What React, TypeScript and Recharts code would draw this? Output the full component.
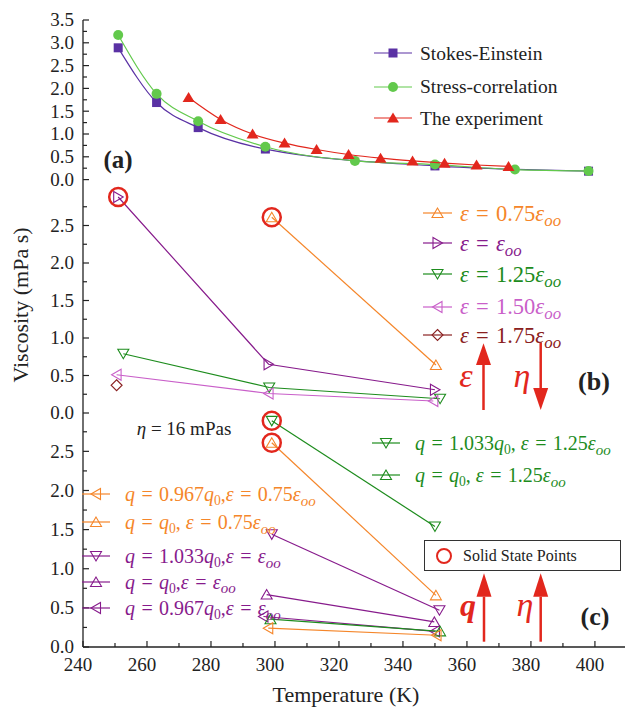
import React from 'react';
import { ComposedChart, Scatter, XAxis, YAxis, Legend, Customized } from 'recharts';

const FONT = '"Liberation Serif", "Times New Roman", Times, serif';

// ---------- shared x axis ----------
const xTicks = [240, 250, 260, 270, 280, 290, 300, 310, 320, 330, 340, 350, 360, 370, 380, 390, 400];
const xLabels = [240, 260, 280, 300, 320, 340, 360, 380, 400];
const xDomain = [240, 409.4];

// ---------- panel (a) ----------
const aTicks = [0, 0.25, 0.5, 0.75, 1, 1.25, 1.5, 1.75, 2, 2.25, 2.5, 2.75, 3, 3.25, 3.5];
const aLabels = [0, 0.5, 1, 1.5, 2, 2.5, 3, 3.5];
const seT = [251, 263, 276, 297, 350, 398];
const seV = [2.89, 1.69, 1.14, 0.67, 0.3, 0.185];
const scT = [251, 263, 276, 297, 325, 350, 375, 398];
const scV = [3.17, 1.88, 1.28, 0.72, 0.41, 0.33, 0.22, 0.19];
const exT = [273, 283, 293, 303, 313, 323, 333, 343, 353, 363, 373];
const exV = [1.8, 1.32, 1.0, 0.8, 0.66, 0.55, 0.47, 0.41, 0.36, 0.32, 0.29];

// ---------- panel (b) ----------
const bTicks = [0, 0.25, 0.5, 0.75, 1, 1.25, 1.5, 1.75, 2, 2.25, 2.5, 2.75];
const bLabels = [0, 0.5, 1, 1.5, 2, 2.5];
const b075T = [299, 350.3];
const b075V = [2.61, 0.64];
const b100T = [251, 298, 350];
const b100V = [2.88, 0.65, 0.31];
const b125T = [252.6, 298.2, 351.6];
const b125V = [0.79, 0.34, 0.19];
const b150T = [250.5, 298, 349.5];
const b150V = [0.51, 0.26, 0.16];
const b175T = [250.5];
const b175V = [0.37];
const bSolidT = [251, 299];
const bSolidV = [2.88, 2.61];

// ---------- panel (c) ----------
const cTicks = [0, 0.25, 0.5, 0.75, 1, 1.25, 1.5, 1.75, 2, 2.25, 2.5, 2.75];
const cLabels = [0, 0.5, 1, 1.5, 2, 2.5];
const cG1033T = [299, 350];
const cG1033V = [2.89, 1.54];
const cO100T = [299, 350.3];
const cO100V = [2.61, 0.66];
const cP1033T = [299, 351.4];
const cP1033V = [1.44, 0.47];
const cP100T = [297.4, 349.8];
const cP100V = [0.67, 0.32];
const cP0967T = [296.4, 350];
const cP0967V = [0.39, 0.2];
const cG100T = [298.6, 351.6];
const cG100V = [0.355, 0.2];
const cO0967T = [297.9, 350.5];
const cO0967V = [0.24, 0.15];
const cSolidT = [299, 299];
const cSolidV = [2.89, 2.61];

// ---------- colours ----------
const PURPLE_A = '#5a31a4';
const GREEN_A = '#62c94c';
const RED = '#e2271d';
const ORANGE = '#f5862a';
const PURPLE = '#871b8c';
const GREEN = '#1d8c1d';
const PINK = '#c95fc9';
const BROWN = '#8a2020';
const AXIS = '#222';

const zip = (t: number[], v: number[]) => t.map((T, i) => ({ T, v: v[i] }));

type Kind = 'square' | 'circle' | 'triFill' | 'up' | 'down' | 'left' | 'right' | 'diamond' | 'ring';

function Mark({ kind, cx, cy, color }: { kind: Kind; cx: number; cy: number; color: string }) {
  const sw = 1.1;
  switch (kind) {
    case 'square':
      return <rect x={cx - 4.5} y={cy - 4.5} width={9} height={9} fill={color} />;
    case 'circle':
      return <circle cx={cx} cy={cy} r={5} fill={color} />;
    case 'triFill':
      return <polygon points={`${cx},${cy - 5.5} ${cx - 6},${cy + 4.5} ${cx + 6},${cy + 4.5}`} fill={color} />;
    case 'up':
      return <polygon points={`${cx},${cy - 5} ${cx - 5.5},${cy + 4.5} ${cx + 5.5},${cy + 4.5}`} fill="none" stroke={color} strokeWidth={sw} />;
    case 'down':
      return <polygon points={`${cx - 5.5},${cy - 4.5} ${cx + 5.5},${cy - 4.5} ${cx},${cy + 5}`} fill="none" stroke={color} strokeWidth={sw} />;
    case 'left':
      return <polygon points={`${cx - 5},${cy} ${cx + 4.5},${cy - 5.5} ${cx + 4.5},${cy + 5.5}`} fill="none" stroke={color} strokeWidth={sw} />;
    case 'right':
      return <polygon points={`${cx + 5},${cy} ${cx - 4.5},${cy - 5.5} ${cx - 4.5},${cy + 5.5}`} fill="none" stroke={color} strokeWidth={sw} />;
    case 'diamond':
      return <polygon points={`${cx},${cy - 5.5} ${cx + 5.5},${cy} ${cx},${cy + 5.5} ${cx - 5.5},${cy}`} fill="none" stroke={color} strokeWidth={sw} />;
    case 'ring':
      return <circle cx={cx} cy={cy} r={9} fill="none" stroke={RED} strokeWidth={2.5} />;
  }
  return null;
}

const shapeOf = (kind: Kind, color: string) => (p: any) => <Mark kind={kind} cx={p.cx} cy={p.cy} color={color} />;

// ---------- axis ticks ----------
const near = (list: number[], v: number) => list.some((l) => Math.abs(l - v) < 1e-6);

const YTick = (props: any) => {
  const { x, y, payload, labels } = props;
  const v = payload.value;
  const major = Math.abs(v * 2 - Math.round(v * 2)) < 1e-6;
  return (
    <g>
      <line x1={x} x2={x + (major ? 6 : 4)} y1={y} y2={y} stroke={AXIS} strokeWidth={1.2} />
      {near(labels, v) && (
        <text x={x - 9} y={y + 6.4} textAnchor="end" fontSize={19} fontFamily={FONT} fill={AXIS}>
          {v.toFixed(1)}
        </text>
      )}
    </g>
  );
};

const XTickBottom = (props: any) => {
  const { x, y, payload, show } = props;
  const v = payload.value;
  const major = near(xLabels, v);
  return (
    <g>
      <line x1={x} x2={x} y1={y} y2={y - (major ? 6 : 4)} stroke={AXIS} strokeWidth={1.2} />
      {show && major && (
        <text x={x - 5} y={y + 24} textAnchor="middle" fontSize={19} fontFamily={FONT} fill={AXIS}>
          {v}
        </text>
      )}
    </g>
  );
};

const XTickTop = (props: any) => {
  const { x, y, payload } = props;
  const major = near(xLabels, payload.value);
  return <line x1={x} x2={x} y1={y} y2={y + (major ? 6 : 4)} stroke={AXIS} strokeWidth={1.2} />;
};

const axesFor = (yDomain: number[], yTicks: number[], yLabels: number[], showX: boolean, bottomH: number, topStroke = AXIS, topW = 1.3) => [
  <XAxis
    key="xb"
    xAxisId="b"
    type="number"
    dataKey="T"
    domain={xDomain}
    ticks={xTicks}
    interval={0}
    height={bottomH}
    tickSize={0}
    tickMargin={0}
    tickLine={false}
    axisLine={{ stroke: AXIS, strokeWidth: 1.3 }}
    tick={(p: any) => <XTickBottom {...p} show={showX} />}
  />,
  <XAxis
    key="xt"
    xAxisId="t"
    orientation="top"
    type="number"
    dataKey="T"
    domain={xDomain}
    ticks={xTicks}
    interval={0}
    height={0}
    tickSize={0}
    tickMargin={0}
    tickLine={false}
    axisLine={{ stroke: topStroke, strokeWidth: topW }}
    tick={(p: any) => <XTickTop {...p} />}
  />,
  <YAxis
    key="y"
    type="number"
    dataKey="v"
    domain={yDomain}
    ticks={yTicks}
    interval={0}
    width={83}
    tickSize={0}
    tickMargin={0}
    tickLine={false}
    axisLine={{ stroke: AXIS, strokeWidth: 1.3 }}
    tick={(p: any) => <YTick {...p} labels={yLabels} />}
  />,
];

// ---------- legend helpers ----------
const I = ({ children }: any) => <span style={{ fontStyle: 'italic' }}>{children}</span>;
const Sub = ({ children, it }: any) => (
  <span style={{ fontSize: it ? '0.75em' : '0.68em', position: 'relative', top: '0.3em', fontStyle: it ? 'italic' : 'normal' }}>{children}</span>
);
const Eq = () => <span style={{ margin: '0 0.32em' }}>=</span>;
const Eoo = () => (
  <>
    <I>ε</I>
    <Sub it>oo</Sub>
  </>
);

type Row = { kind: Kind; color: string; label: React.ReactNode; y: number };

function LegendRows({ rows, x1, x2, textX, fontSize }: { rows: Row[]; x1: number; x2: number; textX: number; fontSize: number }) {
  return (
    <>
      {rows.map((r, i) => (
        <React.Fragment key={i}>
          <svg style={{ position: 'absolute', left: x1, top: r.y - 10, overflow: 'visible' }} width={x2 - x1} height={20}>
            <line x1={0} x2={x2 - x1} y1={10} y2={10} stroke={r.color} strokeWidth={1.2} />
            <Mark kind={r.kind} cx={(x2 - x1) / 2} cy={10} color={r.color} />
          </svg>
          <div
            style={{
              position: 'absolute',
              left: textX,
              top: r.y - fontSize * 0.6,
              fontSize,
              lineHeight: `${fontSize * 1.2}px`,
              color: r.color === PURPLE_A || r.color === GREEN_A || r.color === RED ? '#222' : r.color,
              whiteSpace: 'nowrap',
              fontFamily: FONT,
            }}
          >
            {r.label}
          </div>
        </React.Fragment>
      ))}
    </>
  );
}

const legendA: Row[] = [
  { kind: 'square', color: PURPLE_A, label: 'Stokes-Einstein', y: 53.3 },
  { kind: 'circle', color: GREEN_A, label: 'Stress-correlation', y: 86.7 },
  { kind: 'triFill', color: RED, label: 'The experiment', y: 118.3 },
];

const legendB: Row[] = [
  { kind: 'up', color: ORANGE, label: <><I>ε</I><Eq />0.75<Eoo /></>, y: 22.3 },
  { kind: 'right', color: PURPLE, label: <><I>ε</I><Eq /><Eoo /></>, y: 52.3 },
  { kind: 'down', color: GREEN, label: <><I>ε</I><Eq />1.25<Eoo /></>, y: 83.3 },
  { kind: 'left', color: PINK, label: <><I>ε</I><Eq />1.50<Eoo /></>, y: 115.7 },
  { kind: 'diamond', color: BROWN, label: <><I>ε</I><Eq />1.75<Eoo /></>, y: 144 },
];

const legendCLeft: Row[] = [
  { kind: 'left', color: ORANGE, label: <><I>q</I><Eq />0.967<I>q</I><Sub>0</Sub>,<I>ε</I><Eq />0.75<Eoo /></>, y: 81 },
  { kind: 'up', color: ORANGE, label: <><I>q</I><Eq /><I>q</I><Sub>0</Sub>, <I>ε</I><Eq />0.75<Eoo /></>, y: 109.3 },
  { kind: 'down', color: PURPLE, label: <><I>q</I><Eq />1.033<I>q</I><Sub>0</Sub>,<I>ε</I><Eq /><Eoo /></>, y: 143 },
  { kind: 'up', color: PURPLE, label: <><I>q</I><Eq /><I>q</I><Sub>0</Sub>,<I>ε</I><Eq /><Eoo /></>, y: 168.7 },
  { kind: 'left', color: PURPLE, label: <><I>q</I><Eq />0.967<I>q</I><Sub>0</Sub>,<I>ε</I><Eq /><Eoo /></>, y: 195.3 },
];

const legendCRight: Row[] = [
  { kind: 'down', color: GREEN, label: <><I>q</I><Eq />1.033<I>q</I><Sub>0</Sub>, <I>ε</I><Eq />1.25<Eoo /></>, y: 30.3 },
  { kind: 'up', color: GREEN, label: <><I>q</I><Eq /><I>q</I><Sub>0</Sub>, <I>ε</I><Eq />1.25<Eoo /></>, y: 62 },
];

const legendWrap = (h: number) => ({ position: 'absolute' as const, left: 0, top: 0, width: 625, height: h, pointerEvents: 'none' as const });

// ---------- annotations ----------
const Arrow = ({ x, tipY, baseY, tailY }: { x: number; tipY: number; baseY: number; tailY: number }) => (
  <g>
    <line x1={x} x2={x} y1={tailY} y2={baseY} stroke={RED} strokeWidth={2.5} />
    <polygon points={`${x},${tipY} ${x - 7.5},${baseY} ${x + 7.5},${baseY}`} fill={RED} />
  </g>
);

const AnnotA = () => (
  <text x={118} y={168} textAnchor="middle" fontSize={25} fontWeight="bold" fontFamily={FONT} fill={AXIS}>
    (a)
  </text>
);

const AnnotB = () => (
  <g>
    <text transform="translate(28,114) rotate(-90)" textAnchor="middle" fontSize={22} fontFamily={FONT} fill={AXIS}>
      Viscosity (mPa s)
    </text>
    <Arrow x={483.5} tipY={152.3} baseY={174} tailY={219} />
    <Arrow x={540.7} tipY={219} baseY={197} tailY={151.3} />
    <text x={466} y={196} textAnchor="middle" fontSize={34} fontStyle="italic" fontFamily={FONT} fill={RED}>ε</text>
    <text x={522} y={196} textAnchor="middle" fontSize={34} fontStyle="italic" fontFamily={FONT} fill={RED}>η</text>
    <text x={594} y={199} textAnchor="middle" fontSize={26} fontWeight="bold" fontFamily={FONT} fill={AXIS}>(b)</text>
  </g>
);

const AnnotC = () => (
  <g>
    <text x={184} y={22} textAnchor="middle" fontSize={19} fontFamily={FONT} fill={AXIS}>
      <tspan fontStyle="italic">η</tspan> = 16 mPas
    </text>
    <Arrow x={484} tipY={160.3} baseY={183.7} tailY={228.7} />
    <Arrow x={540.7} tipY={160.3} baseY={183.7} tailY={228.7} />
    <text x={468} y={203} textAnchor="middle" fontSize={32} fontStyle="italic" fontWeight="bold" fontFamily={FONT} fill={RED}>q</text>
    <text x={525} y={203} textAnchor="middle" fontSize={34} fontStyle="italic" fontFamily={FONT} fill={RED}>η</text>
    <text x={595} y={212} textAnchor="middle" fontSize={26} fontWeight="bold" fontFamily={FONT} fill={AXIS}>(c)</text>
    <text x={346} y={288.7} textAnchor="middle" fontSize={22} fontFamily={FONT} fill={AXIS}>Temperature (K)</text>
  </g>
);

// ---------- charts ----------
const series = (data: { T: number; v: number }[], kind: Kind, color: string, lineType: any = 'linear', line = true) => (
  <Scatter
    xAxisId="b"
    data={data}
    fill={color}
    line={line ? { stroke: color, strokeWidth: 1.2 } : false}
    lineJointType={lineType}
    shape={shapeOf(kind, color)}
    isAnimationActive={false}
  />
);

function ChartA() {
  return (
    <ComposedChart width={625} height={191} margin={{ top: 20, right: 0, bottom: 0, left: 0 }}>
      {axesFor([-0.25, 3.5], aTicks, aLabels, false, 0, '#6a6a6a', 2)}
      {series(zip(seT, seV), 'square', PURPLE_A, 'monotoneX')}
      {series(zip(scT, scV), 'circle', GREEN_A, 'monotoneX')}
      {series(zip(exT, exV), 'triFill', RED, 'monotoneX')}
      <Legend
        layout="vertical"
        align="center"
        verticalAlign="middle"
        wrapperStyle={legendWrap(191)}
        content={() => <LegendRows rows={legendA} x1={374} x2={412} textX={420} fontSize={19.5} />}
      />
      <Customized component={AnnotA} />
    </ComposedChart>
  );
}

function ChartB() {
  return (
    <ComposedChart width={625} height={222} margin={{ top: 0, right: 0, bottom: 0, left: 0 }}>
      {axesFor([0, 2.96], bTicks, bLabels, false, 0)}
      {series(zip(b075T, b075V), 'up', ORANGE)}
      {series(zip(b100T, b100V), 'right', PURPLE)}
      {series(zip(b125T, b125V), 'down', GREEN)}
      {series(zip(b150T, b150V), 'left', PINK)}
      {series(zip(b175T, b175V), 'diamond', BROWN)}
      {series(zip(bSolidT, bSolidV), 'ring', RED, 'linear', false)}
      <Legend
        layout="vertical"
        align="center"
        verticalAlign="middle"
        wrapperStyle={legendWrap(222)}
        content={() => <LegendRows rows={legendB} x1={423} x2={452} textX={460} fontSize={22.5} />}
      />
      <Customized component={AnnotB} />
    </ComposedChart>
  );
}

function ChartC() {
  return (
    <ComposedChart width={625} height={294} margin={{ top: 0, right: 0, bottom: 0, left: 0 }}>
      {axesFor([0, 2.99], cTicks, cLabels, true, 60)}
      {series(zip(cG1033T, cG1033V), 'down', GREEN)}
      {series(zip(cO100T, cO100V), 'up', ORANGE)}
      {series(zip(cP1033T, cP1033V), 'down', PURPLE)}
      {series(zip(cP100T, cP100V), 'up', PURPLE)}
      {series(zip(cP0967T, cP0967V), 'left', PURPLE)}
      {series(zip(cG100T, cG100V), 'up', GREEN)}
      {series(zip(cO0967T, cO0967V), 'left', ORANGE)}
      {series(zip(cSolidT, cSolidV), 'ring', RED, 'linear', false)}
      <Legend
        layout="vertical"
        align="center"
        verticalAlign="middle"
        wrapperStyle={legendWrap(294)}
        content={() => (
          <>
            <LegendRows rows={legendCLeft} x1={82} x2={110} textX={125} fontSize={20} />
            <LegendRows rows={legendCRight} x1={372} x2={400} textX={415} fontSize={20} />
            <div
              style={{
                position: 'absolute',
                left: 424,
                top: 127,
                width: 197,
                height: 31,
                boxSizing: 'border-box',
                border: '1.5px solid #333',
                background: '#fff',
                fontFamily: FONT,
                fontSize: 16,
                color: '#222',
              }}
            >
              <svg style={{ position: 'absolute', left: 10, top: 6 }} width={18} height={18}>
                <circle cx={9} cy={9} r={7} fill="none" stroke={RED} strokeWidth={2} />
              </svg>
              <span style={{ position: 'absolute', left: 38, top: 5, lineHeight: '19px', whiteSpace: 'nowrap' }}>Solid State Points</span>
            </div>
          </>
        )}
      />
      <Customized component={AnnotC} />
    </ComposedChart>
  );
}

export default function App() {
  return (
    <div style={{ position: 'absolute', left: 0, top: 0, width: 625, height: 707, background: '#fff', overflow: 'hidden', fontFamily: FONT }}>
      <style>{'.recharts-surface{overflow:visible}'}</style>
      <div style={{ position: 'absolute', left: 0, top: 0 }}>
        <ChartA />
      </div>
      <div style={{ position: 'absolute', left: 0, top: 191 }}>
        <ChartB />
      </div>
      <div style={{ position: 'absolute', left: 0, top: 413 }}>
        <ChartC />
      </div>
    </div>
  );
}
